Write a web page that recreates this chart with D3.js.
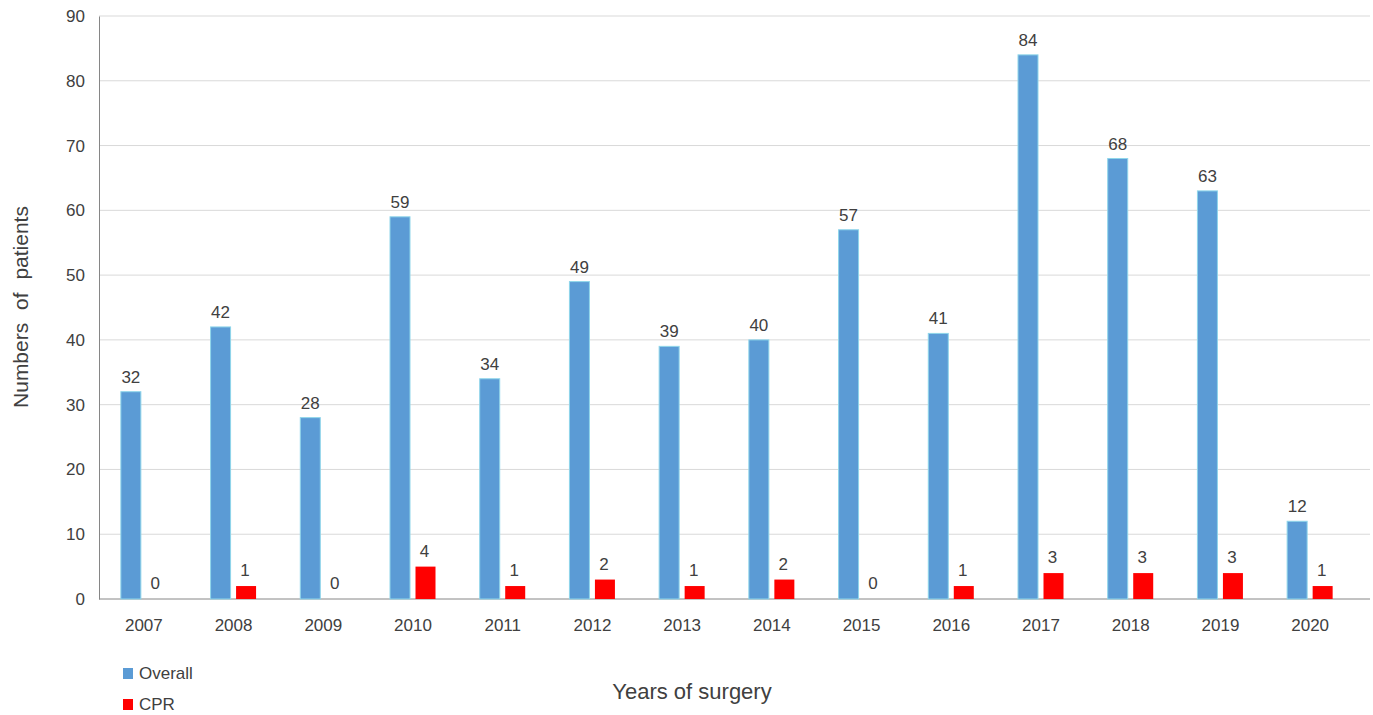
<!DOCTYPE html>
<html><head><meta charset="utf-8">
<script src="https://cdn.jsdelivr.net/npm/d3@7"></script>
<style>body{margin:0;background:#fff;} svg{display:block;font-family:"Liberation Sans",Arial,sans-serif;}</style>
</head><body><svg id="c" width="1373" height="715"></svg>
<script>
const years = ["2007","2008","2009","2010","2011","2012","2013","2014","2015","2016","2017","2018","2019","2020"];
const overall = [32,42,28,59,34,49,39,40,57,41,84,68,63,12];
const cprLabels = [0,1,0,4,1,2,1,2,0,1,3,3,3,1];
const cprBars = [0,2,0,5,2,3,2,3,0,2,4,4,4,2];
const yTicks = [0,10,20,30,40,50,60,70,80,90];

const svg = d3.select("#c");
const m = {l:99, r:1370, t:16, b:599};
const x = d3.scaleBand().domain(years).range([m.l, 1355]);
const y = d3.scaleLinear().domain([0,90]).range([m.b, m.t]);

svg.append("g").selectAll("line").data(yTicks.filter(d=>d>0)).join("line")
  .attr("x1", m.l).attr("x2", m.r).attr("y1", d=>y(d)).attr("y2", d=>y(d))
  .attr("stroke", "#d9d9d9").attr("stroke-width", 1);

const yAxis = svg.append("g").attr("transform", `translate(${m.l},0)`)
  .call(d3.axisLeft(y).tickValues(yTicks).tickSize(0).tickPadding(14));
yAxis.select(".domain").attr("stroke", "#868686");
yAxis.selectAll("text").attr("font-size", 17).attr("fill", "#404040").attr("font-family", "Liberation Sans, Arial, sans-serif");

svg.append("line").attr("x1", m.l).attr("x2", m.r).attr("y1", m.b).attr("y2", m.b)
  .attr("stroke", "#868686");
const xAxis = svg.append("g").attr("transform", `translate(0,${m.b})`)
  .call(d3.axisBottom(x).tickSize(0).tickPadding(20));
xAxis.select(".domain").remove();
xAxis.selectAll("text").attr("font-size", 17).attr("fill", "#404040").attr("font-family", "Liberation Sans, Arial, sans-serif");

const bw = 20;
const blueX = d => x(d) + x.bandwidth()/2 - 23;
const redX = d => x(d) + x.bandwidth()/2 + 2.5;

svg.append("g").selectAll("rect").data(years).join("rect")
  .attr("x", (d)=>blueX(d)).attr("width", bw)
  .attr("y", (d,i)=>y(overall[i])).attr("height", (d,i)=>y(0)-y(overall[i]))
  .attr("fill", "#5b9bd5").attr("stroke", "#8fd6ea").attr("stroke-width", 1);

svg.append("g").selectAll("rect").data(years).join("rect")
  .attr("x", (d)=>redX(d)).attr("width", bw)
  .attr("y", (d,i)=>y(cprBars[i])).attr("height", (d,i)=>y(0)-y(cprBars[i]))
  .attr("fill", "#ff0000");

svg.append("g").selectAll("text").data(years).join("text")
  .attr("x", d=>blueX(d)+bw/2).attr("y", (d,i)=>y(overall[i])-9)
  .attr("text-anchor","middle").attr("font-size",17).attr("fill","#404040")
  .text((d,i)=>overall[i]);

svg.append("g").selectAll("text").data(years).join("text")
  .attr("x", d=>redX(d)+bw/2-1).attr("y", (d,i)=>y(cprBars[i])-10)
  .attr("text-anchor","middle").attr("font-size",17).attr("fill","#404040")
  .text((d,i)=>cprLabels[i]);

svg.append("text").attr("transform","translate(28,307) rotate(-90)")
  .attr("text-anchor","middle").attr("font-size",21).attr("fill","#404040")
  .attr("word-spacing", "7px").text("Numbers of patients");

svg.append("text").attr("x", 692).attr("y", 699)
  .attr("text-anchor","middle").attr("font-size",22).attr("fill","#404040")
  .text("Years of surgery");

const legend = [{n:"Overall", c:"#5b9bd5"},{n:"CPR", c:"#ff0000"}];
const lg = svg.append("g").selectAll("g").data(legend).join("g")
  .attr("transform", (d,i)=>`translate(123,${668 + i*31})`);
lg.append("rect").attr("width",10).attr("height",11).attr("fill",d=>d.c);
lg.append("text").attr("x",16).attr("y",11).attr("font-size",17).attr("fill","#404040").text(d=>d.n);
</script></body></html>
